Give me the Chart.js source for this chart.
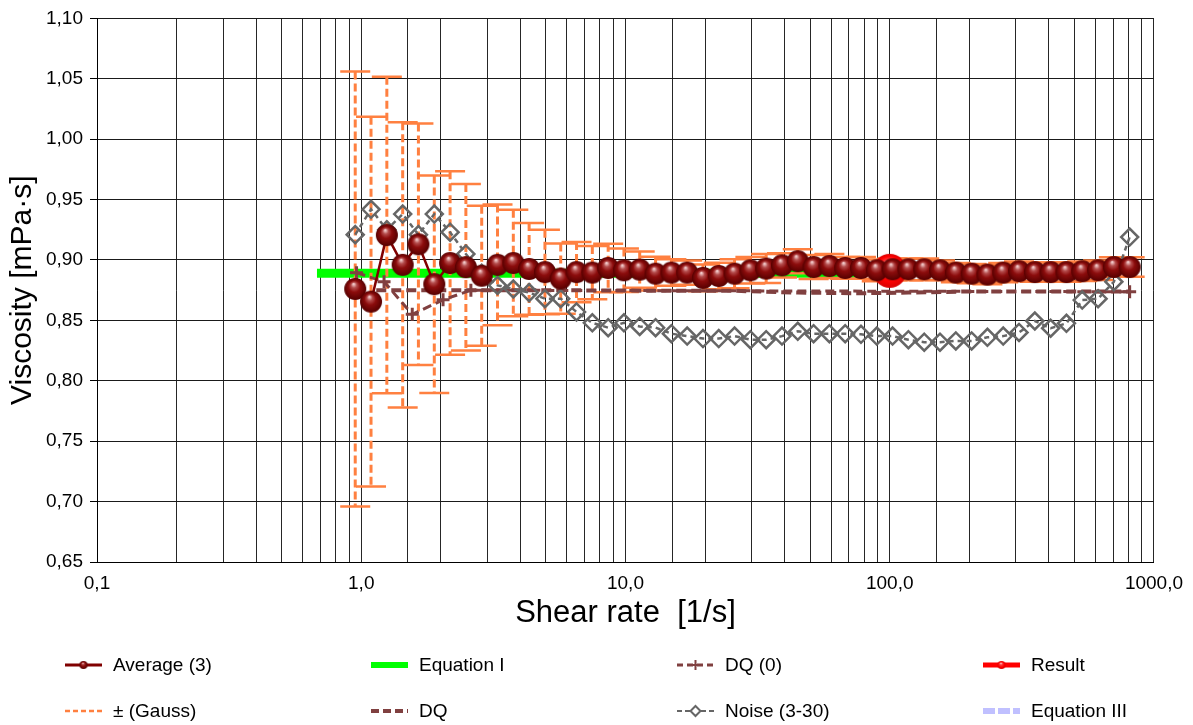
<!DOCTYPE html>
<html>
<head>
<meta charset="utf-8">
<title>Viscosity vs shear rate</title>
<script src="https://cdn.jsdelivr.net/npm/chart.js@4.4.0/dist/chart.umd.min.js"></script>
<style>
  body { margin: 0; background: #fff; }
  #wrap { position: relative; width: 1193px; height: 725px; }
  #legend {
    position: absolute; left: 65px; top: 653px;
    display: grid; grid-template-columns: repeat(4, 306px); grid-auto-rows: 46px;
    font-family: "Liberation Sans", Arial, sans-serif; font-size: 19px; color: #000;
  }
  .item { display: flex; align-items: center; height: 24px; white-space: nowrap; }
  .item canvas { margin-right: 11px; }
</style>
</head>
<body>
<div id="wrap">
  <canvas id="chart" width="1193" height="725"></canvas>
  <div id="legend"></div>
</div>
<script>
// shear rates of the measured points [1/s]
const shear = [0.949, 1.089, 1.250, 1.435, 1.646, 1.890, 2.169, 2.489, 2.857, 3.279,
  3.763, 4.319, 4.957, 5.688, 6.528, 7.491, 8.600, 9.867, 11.32, 13.00,
  14.92, 17.12, 19.65, 22.54, 25.87, 29.70, 34.08, 39.11, 44.88, 51.51,
  59.12, 67.84, 77.86, 89.35, 102.5, 117.7, 135.1, 155.0, 177.9, 204.2,
  234.3, 268.9, 308.6, 354.2, 406.4, 466.5, 535.3, 614.6, 705.2, 809.2];

const average = [0.876, 0.8655, 0.9206, 0.896, 0.913, 0.880, 0.8975, 0.894, 0.887, 0.896,
  0.8975, 0.8926, 0.890, 0.8846, 0.890, 0.8896, 0.8934, 0.8915, 0.892, 0.8887,
  0.8896, 0.8896, 0.8852, 0.8868, 0.8887, 0.8915, 0.8929, 0.8956, 0.899, 0.8942,
  0.895, 0.8934, 0.8934, 0.8915, 0.8923, 0.8923, 0.8923, 0.8915, 0.8896, 0.8887,
  0.8879, 0.8896, 0.8907, 0.890, 0.890, 0.890, 0.8907, 0.8915, 0.8942, 0.8942];

// +/- deviation (Gauss) around the average
const gaussErr = [0.180, 0.153, 0.131, 0.118, 0.100, 0.090, 0.076, 0.069, 0.058, 0.050,
  0.044, 0.038, 0.035, 0.029, 0.025, 0.022, 0.020, 0.018, 0.015, 0.014,
  0.011, 0.010, 0.011, 0.011, 0.012, 0.011, 0.012, 0.010, 0.010, 0.010,
  0.010, 0.009, 0.009, 0.009, 0.009, 0.009, 0.009, 0.008, 0.008, 0.008,
  0.008, 0.008, 0.008, 0.008, 0.008, 0.008, 0.008, 0.008, 0.008, 0.008];

const noise = [0.921, 0.942, 0.925, 0.938, 0.921, 0.938, 0.923, 0.905, 0.889, 0.879,
  0.876, 0.873, 0.868, 0.868, 0.857, 0.848, 0.844, 0.848, 0.845, 0.844,
  0.839, 0.837, 0.835, 0.835, 0.837, 0.834, 0.834, 0.837, 0.841, 0.839,
  0.839, 0.839, 0.8385, 0.837, 0.837, 0.834, 0.832, 0.832, 0.833, 0.833,
  0.836, 0.837, 0.840, 0.8495, 0.8435, 0.8476, 0.8668, 0.868, 0.882, 0.919];

const dqShear = [1.14, 2.0, 5.0, 15.0, 25.9, 44.9, 77.9, 117.7, 204.2, 406.4, 809.2];
const dqValues = [0.875, 0.875, 0.875, 0.8745, 0.8745, 0.873, 0.8725, 0.873, 0.874, 0.874, 0.874];

const dq0Shear = [0.96, 1.22, 1.56, 2.04, 2.6, 809.2];
const dq0Values = [0.8895, 0.882, 0.855, 0.867, 0.875, 0.8737];

const eq1Shear = [0.68, 78];
const eq1Values = [0.889, 0.889];

const resultShear = [100];
const resultValues = [0.891];

const xTickValues = [0.1, 1, 10, 100, 1000];
const xTickLabels = ['0,1', '1,0', '10,0', '100,0', '1000,0'];

const FONT = '"Liberation Sans", Arial, sans-serif';

function pairs(xs, ys) {
  return xs.map((x, i) => ({ x: x, y: ys[i] }));
}

// shaded sphere used as point marker
function makeBall(r, stops) {
  const c = document.createElement('canvas');
  c.width = c.height = 2 * r + 2;
  const g = c.getContext('2d');
  const cx = r + 1, cy = r + 1;
  const grad = g.createRadialGradient(cx - r * 0.15, cy - r * 0.45, r * 0.05, cx, cy, r);
  stops.forEach(s => grad.addColorStop(s[0], s[1]));
  g.fillStyle = grad;
  g.beginPath();
  g.arc(cx, cy, r, 0, Math.PI * 2);
  g.fill();
  return c;
}

const darkStops = [[0, '#f2caca'], [0.22, '#b44c4c'], [0.5, '#8c0c0c'], [1, '#560000']];
const redStops = [[0, '#ffd8d8'], [0.3, '#ff3a3a'], [0.7, '#ff0000'], [1, '#d80000']];
const ball = makeBall(11, darkStops);
const redBall = makeBall(17, redStops);

const datasets = [
  {
    label: 'Average (3)', data: pairs(shear, average), order: 0,
    borderColor: '#800000', borderWidth: 2.5, pointStyle: ball, pointRadius: 11,
    legend: { color: '#800000', width: 3, dash: [], marker: 'ball' }
  },
  {
    label: 'Equation I', data: pairs(eq1Shear, eq1Values), order: 7,
    borderColor: '#00ff00', borderWidth: 9, pointRadius: 0, borderCapStyle: 'butt',
    legend: { color: '#00ff00', width: 6, dash: [] }
  },
  {
    label: 'DQ (0)', data: pairs(dq0Shear, dq0Values), order: 3,
    borderColor: '#804040', borderWidth: 3, borderDash: [9, 5], pointStyle: 'cross',
    pointRadius: 6.5, pointBorderWidth: 3, pointBorderColor: '#804040',
    legend: { color: '#804040', width: 3, dash: [6, 4], marker: 'cross' }
  },
  {
    label: 'Result', data: pairs(resultShear, resultValues), order: 1,
    borderColor: '#ff0000', pointStyle: redBall, pointRadius: 17, showLine: false,
    legend: { color: '#ff0000', width: 5, dash: [], marker: 'redball' }
  },
  {
    label: '± (Gauss)', data: pairs(shear, average), errors: gaussErr, order: 5,
    borderColor: '#ff8040', pointRadius: 0, showLine: false,
    legend: { color: '#ff8040', width: 2.5, dash: [5, 3] }
  },
  {
    label: 'DQ', data: pairs(dqShear, dqValues), order: 4,
    borderColor: '#804040', borderWidth: 4, borderDash: [10, 5], pointRadius: 0,
    legend: { color: '#804040', width: 4, dash: [8, 4] }
  },
  {
    label: 'Noise (3-30)', data: pairs(shear, noise), order: 2,
    borderColor: '#666666', borderWidth: 2.5, borderDash: [5, 4], pointStyle: 'rectRot',
    pointRadius: 8.5, pointBorderWidth: 2.5, pointBorderColor: '#666666',
    pointBackgroundColor: 'rgba(0,0,0,0)',
    legend: { color: '#666666', width: 2, dash: [5, 3], marker: 'diamond' }
  },
  {
    label: 'Equation III', data: [], order: 6,
    borderColor: '#c0c0ff', borderWidth: 6, borderDash: [10, 4], pointRadius: 0,
    legend: { color: '#c0c0ff', width: 6, dash: [12, 3] }
  }
];

// draws the +/- error bars of a dataset that carries an "errors" array
const errorBars = {
  id: 'errorBars',
  afterDatasetDraw(chart, args) {
    const ds = chart.data.datasets[args.index];
    if (!ds.errors) return;
    const ctx = chart.ctx;
    const yScale = chart.scales.y;
    ctx.save();
    ctx.strokeStyle = ds.borderColor;
    args.meta.data.forEach((pt, i) => {
      const v = ds.data[i].y;
      const e = ds.errors[i];
      const top = yScale.getPixelForValue(v + e);
      const bot = yScale.getPixelForValue(v - e);
      ctx.lineWidth = 3;
      ctx.setLineDash([8, 4]);
      ctx.beginPath();
      ctx.moveTo(pt.x, top);
      ctx.lineTo(pt.x, bot);
      ctx.stroke();
      ctx.lineWidth = 2.5;
      ctx.setLineDash([]);
      ctx.beginPath();
      ctx.moveTo(pt.x - 15, top);
      ctx.lineTo(pt.x + 15, top);
      ctx.moveTo(pt.x - 15, bot);
      ctx.lineTo(pt.x + 15, bot);
      ctx.stroke();
    });
    ctx.restore();
  }
};

const chart = new Chart(document.getElementById('chart'), {
  type: 'line',
  data: { datasets: datasets },
  plugins: [errorBars],
  options: {
    responsive: false,
    animation: false,
    layout: { padding: { left: 0, top: 15, right: 38, bottom: 78 } },
    plugins: { legend: { display: false }, tooltip: { enabled: false } },
    scales: {
      x: {
        type: 'logarithmic', min: 0.1, max: 1000,
        afterFit: s => { s.height = 85; },
        border: { color: '#000', width: 1 },
        grid: { color: '#262626', lineWidth: 1, drawTicks: false },
        ticks: {
          autoSkip: false, maxRotation: 0, padding: 10, color: '#000',
          font: { family: FONT, size: 19 },
          callback: v => {
            const k = xTickValues.findIndex(t => Math.abs(t - v) / t < 1e-6);
            return k >= 0 ? xTickLabels[k] : '';
          }
        },
        title: {
          display: true, text: 'Shear rate  [1/s]', color: '#000',
          font: { family: FONT, size: 31 }, padding: { top: 0, bottom: 15 }
        }
      },
      y: {
        min: 0.65, max: 1.10,
        afterFit: s => { s.width = 97; },
        border: { color: '#000', width: 1 },
        grid: { color: '#1a1a1a', lineWidth: 1, tickLength: 7, tickColor: '#000' },
        ticks: {
          stepSize: 0.05, padding: 7, color: '#000',
          font: { family: FONT, size: 19 },
          callback: v => v.toFixed(2).replace('.', ',')
        },
        title: {
          display: true, text: 'Viscosity [mPa·s]', color: '#000',
          font: { family: FONT, size: 30 }, padding: { top: 5, bottom: 0 }
        }
      }
    }
  }
});

// legend laid out in a 4-column grid like the original
function drawSymbol(c, lg) {
  const g = c.getContext('2d');
  const mid = c.height / 2;
  g.strokeStyle = lg.color;
  g.lineWidth = lg.width;
  g.setLineDash(lg.dash);
  g.beginPath();
  g.moveTo(0, mid);
  g.lineTo(c.width, mid);
  g.stroke();
  g.setLineDash([]);
  const cx = c.width / 2;
  if (lg.marker === 'ball' || lg.marker === 'redball') {
    const b = makeBall(4, lg.marker === 'ball' ? darkStops : redStops);
    g.drawImage(b, cx - b.width / 2, mid - b.height / 2);
  } else if (lg.marker === 'cross') {
    g.lineWidth = 2;
    g.beginPath();
    g.moveTo(cx, mid - 5); g.lineTo(cx, mid + 5);
    g.moveTo(cx - 5, mid); g.lineTo(cx + 5, mid);
    g.stroke();
  } else if (lg.marker === 'diamond') {
    g.lineWidth = 2;
    g.fillStyle = '#fff';
    g.beginPath();
    g.moveTo(cx, mid - 5); g.lineTo(cx + 5, mid); g.lineTo(cx, mid + 5); g.lineTo(cx - 5, mid);
    g.closePath();
    g.fill();
    g.stroke();
  }
}

const legendBox = document.getElementById('legend');
chart.data.datasets.forEach(ds => {
  const item = document.createElement('div');
  item.className = 'item';
  const c = document.createElement('canvas');
  c.width = 37; c.height = 16;
  drawSymbol(c, ds.legend);
  const span = document.createElement('span');
  span.textContent = ds.label;
  item.appendChild(c);
  item.appendChild(span);
  legendBox.appendChild(item);
});
</script>
</body>
</html>
